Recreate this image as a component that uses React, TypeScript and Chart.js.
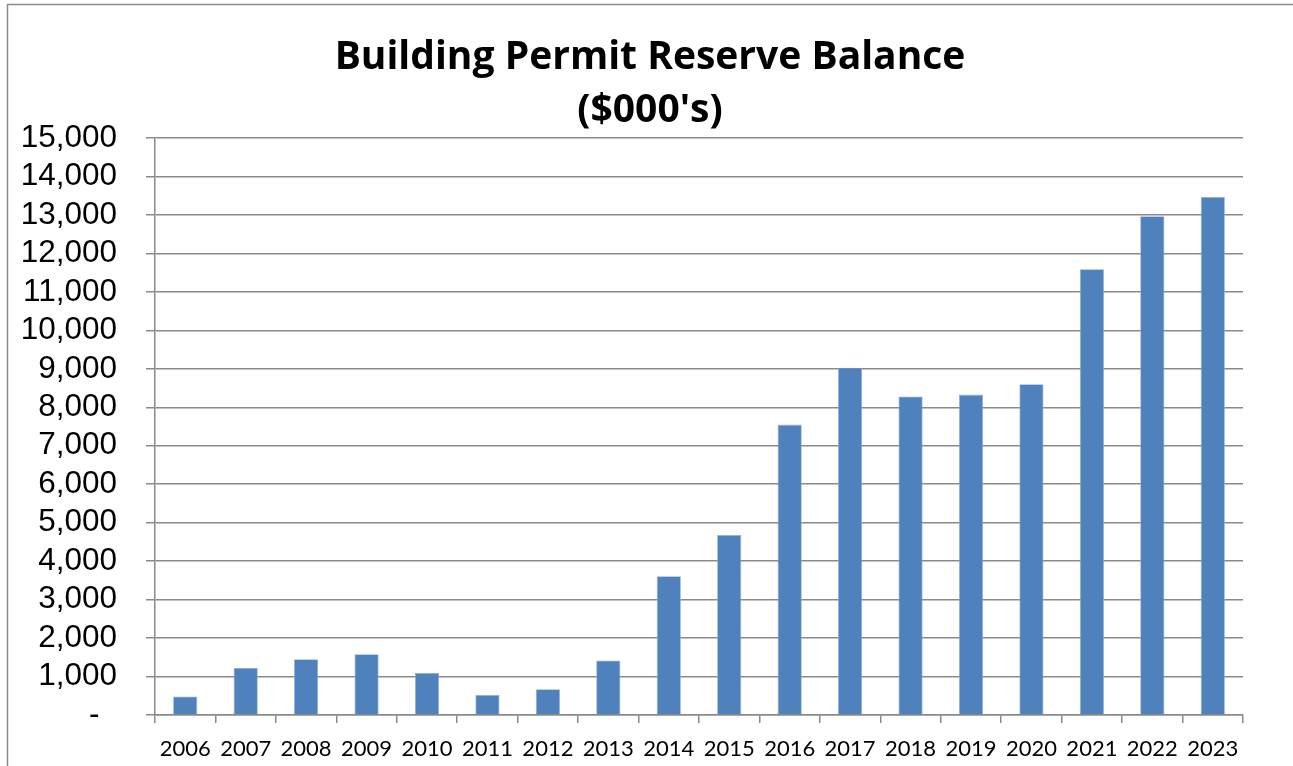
import React, { useEffect, useRef } from "react";
import { Chart, registerables } from "chart.js";

Chart.register(...registerables);

const years: string[] = [
  "2006", "2007", "2008", "2009", "2010", "2011", "2012", "2013", "2014",
  "2015", "2016", "2017", "2018", "2019", "2020", "2021", "2022", "2023",
];
const balances: number[] = [
  480, 1220, 1450, 1580, 1090, 520, 670, 1420, 3610,
  4680, 7550, 9030, 8280, 8330, 8600, 11590, 12970, 13470,
];
const titleLines: string[] = ["Building Permit Reserve Balance", "($000's)"];
const yMin = 0;
const yMax = 15000;
const yStep = 1000;

const framePlugin = {
  id: "frame",
  afterLayout(chart: any) {
    const t = chart.titleBlock;
    if (t) {
      t.left = 57;
      t.width = t.right - t.left;
    }
  },
  beforeDraw(chart: any) {
    const ctx = chart.ctx;
    ctx.save();
    ctx.strokeStyle = "#8c8c8c";
    ctx.lineWidth = 1.5;
    ctx.beginPath();
    ctx.moveTo(7.5, chart.height);
    ctx.lineTo(7.5, 4.5);
    ctx.lineTo(chart.width, 4.5);
    ctx.stroke();
    ctx.restore();
  },
};

export default function App() {
  const ref = useRef<HTMLCanvasElement | null>(null);

  useEffect(() => {
    if (!ref.current) return;
    const chart = new Chart(ref.current, {
      type: "bar",
      data: {
        labels: years,
        datasets: [
          {
            data: balances,
            backgroundColor: "#4f81bd",
            borderColor: "#8eaedb",
            borderWidth: 0.8,
            categoryPercentage: 1,
            barPercentage: 0.4,
          },
        ],
      },
      plugins: [framePlugin],
      options: {
        responsive: false,
        animation: false,
        layout: { padding: { left: 0, right: 50, top: 0, bottom: 0 } },
        plugins: {
          legend: { display: false },
          tooltip: { enabled: false },
          title: {
            display: true,
            text: titleLines,
            color: "#000",
            font: { family: "Open Sans", size: 39, weight: "bold", lineHeight: 1.36 },
            padding: { top: 31, bottom: 1 },
          },
        },
        scales: {
          x: {
            grid: {
              drawOnChartArea: false,
              drawTicks: true,
              tickLength: 8,
              color: "#8a8a8a",
              lineWidth: 1.5,
              offset: true,
            },
            border: { display: true, color: "#8a8a8a", width: 1.5 },
            ticks: {
              color: "#000",
              font: { family: "Lato", size: 22 },
              padding: 13,
              maxRotation: 0,
              autoSkip: false,
            },
            afterFit(scale: any) {
              scale.height = 51;
            },
          },
          y: {
            min: yMin,
            max: yMax,
            grid: {
              color: "#8a8a8a",
              lineWidth: 1.5,
              tickLength: 9,
            },
            border: { display: true, color: "#8a8a8a", width: 1.5 },
            ticks: {
              stepSize: yStep,
              autoSkip: false,
              maxTicksLimit: 30,
              color: "#000",
              font: { family: "Liberation Sans", size: 31.5 },
              padding: 29,
              callback: (v: any) =>
                Number(v) === 0 ? "-  " : Number(v).toLocaleString("en-US"),
            },
            afterFit(scale: any) {
              scale.width = 155;
            },
          },
        },
      },
    });
    return () => chart.destroy();
  }, []);

  return (
    <div style={{ position: "absolute", left: 0, top: 0, width: 1293, height: 766, background: "#fff" }}>
      <canvas ref={ref} width={1293} height={766} style={{ display: "block" }} />
    </div>
  );
}
